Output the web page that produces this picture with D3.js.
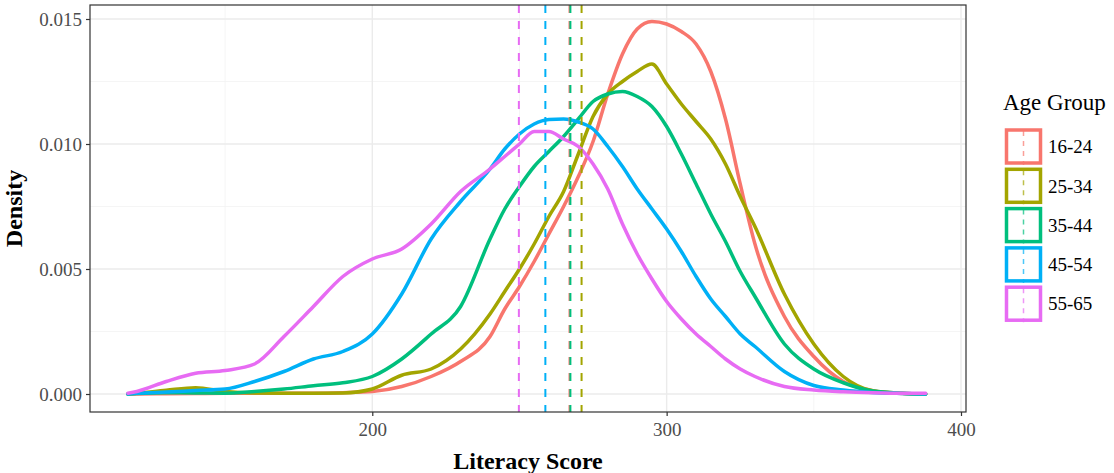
<!DOCTYPE html>
<html>
<head>
<meta charset="utf-8">
<script src="https://cdn.jsdelivr.net/npm/d3@7"></script>
<style>
  body { margin: 0; background: #fff; }
  text { font-family: "Liberation Serif", "DejaVu Serif", serif; }
</style>
</head>
<body>
<svg id="chart" width="1114" height="473"></svg>
<script>
// literacy score grid (x of every density point)
var scores = [117, 120, 130, 140, 150, 160, 170, 180, 190, 200, 210, 220, 230, 240, 245, 250, 255, 260, 265, 270,
  275, 280, 285, 290, 295, 300, 305, 310, 315, 320, 325, 330, 340, 350, 360, 370, 380, 388];

var groups = ["16-24", "25-34", "35-44", "45-54", "55-65"];

var dens1624 = [0, 0, 0.00001, 0.00002, 0.00003, 0.00003, 0.00003, 0.00003, 0.00005, 0.0001, 0.0003, 0.0007, 0.0013, 0.0023,
  0.0034, 0.0043, 0.0053, 0.0064, 0.0075, 0.0087, 0.0101, 0.0120, 0.0136, 0.0146, 0.0149, 0.0148, 0.0145, 0.0140, 0.0129,
  0.0110, 0.0084, 0.0060, 0.0031, 0.0015, 0.0005, 0.00013, 0.00002, 0];
var dens2534 = [0, 0.00003, 0.00015, 0.00025, 0.0001, 0.00004, 0.00003, 0.00003, 0.00004, 0.0002, 0.00075, 0.001, 0.0018,
  0.0032, 0.0041, 0.0050, 0.0060, 0.0071, 0.0081, 0.0096, 0.0111, 0.0120, 0.0125, 0.0129, 0.0132, 0.0124, 0.0116, 0.0109,
  0.0102, 0.0092, 0.0079, 0.0067, 0.0040, 0.0020, 0.0007, 0.00013, 0.00003, 0];
var dens3544 = [0, 0.00002, 0.00005, 0.00004, 0.00003, 0.0001, 0.0002, 0.00033, 0.00045, 0.0007, 0.0014, 0.0024, 0.0035,
  0.0062, 0.0074, 0.0083, 0.0091, 0.0097, 0.0103, 0.0110, 0.0117, 0.0120, 0.0121, 0.0119, 0.0115, 0.0107, 0.0096, 0.0084,
  0.0072, 0.0061, 0.0049, 0.0039, 0.0020, 0.0010, 0.00045, 0.00012, 0.00003, 0];
var dens4554 = [0, 0.00003, 0.00008, 0.00014, 0.0002, 0.0005, 0.0009, 0.0014, 0.0017, 0.0024, 0.0040, 0.0062, 0.0077,
  0.0090, 0.0098, 0.0104, 0.0108, 0.01098, 0.0110, 0.01088, 0.0106, 0.0099, 0.0091, 0.0082, 0.0074, 0.0066, 0.0057, 0.0047,
  0.0038, 0.0031, 0.0024, 0.0019, 0.0009, 0.00034, 0.00016, 0.00006, 0.00002, 0];
var dens5565 = [0.00003, 0.0001, 0.0005, 0.00083, 0.00094, 0.0012, 0.0023, 0.0035, 0.0047, 0.0054, 0.0058, 0.0068, 0.0081,
  0.0090, 0.0095, 0.0100, 0.0105, 0.0105, 0.0102, 0.0099, 0.0092, 0.0082, 0.0068, 0.0056, 0.0046, 0.0037, 0.0030, 0.0024,
  0.0019, 0.0014, 0.0010, 0.0007, 0.0003, 0.00016, 0.00009, 0.00005, 0.00003, 0.00003];

// group mean scores (dashed lines)
var means = [267.0, 271.1, 267.3, 258.8, 249.8];

var xTicks = [200, 300, 400];
var yTicks = [0, 0.005, 0.010, 0.015];

var colors = ["#F8766D", "#A3A500", "#00BF7D", "#00B0F6", "#E76BF3"];

var series = [dens1624, dens2534, dens3544, dens4554, dens5565].map(function(vals, i) {
  return {
    group: groups[i],
    mean: means[i],
    points: scores.map(function(s, j) { return {x: s, y: vals[j]}; })
  };
});

var svg = d3.select("#chart"),
    margin = {top: 5, right: 148, bottom: 61, left: 90},
    width = +svg.attr("width") - margin.left - margin.right,
    height = +svg.attr("height") - margin.top - margin.bottom;

var x = d3.scaleLinear().domain([104.1, 401.7]).range([0, width]);
var y = d3.scaleLinear().domain([-0.00072, 0.01556]).range([height, 0]);
var color = d3.scaleOrdinal().domain(groups).range(colors);

var g = svg.append("g").attr("transform", "translate(" + margin.left + "," + margin.top + ")");

// minor grid
var xMinor = d3.range(150, 401, 100), yMinor = d3.range(0.0025, 0.0151, 0.005);
g.selectAll(".xminor").data(xMinor).enter().append("line")
    .attr("x1", x).attr("x2", x).attr("y1", 0).attr("y2", height)
    .attr("stroke", "#f2f2f2").attr("stroke-width", 0.8);
g.selectAll(".yminor").data(yMinor).enter().append("line")
    .attr("y1", y).attr("y2", y).attr("x1", 0).attr("x2", width)
    .attr("stroke", "#f2f2f2").attr("stroke-width", 0.8);

// major grid
g.selectAll(".xmajor").data(xTicks).enter().append("line")
    .attr("x1", x).attr("x2", x).attr("y1", 0).attr("y2", height)
    .attr("stroke", "#ebebeb").attr("stroke-width", 1.4);
g.selectAll(".ymajor").data(yTicks).enter().append("line")
    .attr("y1", y).attr("y2", y).attr("x1", 0).attr("x2", width)
    .attr("stroke", "#ebebeb").attr("stroke-width", 1.4);

var line = d3.line()
    .x(function(d) { return x(d.x); })
    .y(function(d) { return y(d.y); })
    .curve(d3.curveMonotoneX);

g.selectAll(".dens").data(series).enter().append("path")
    .attr("d", function(d) { return line(d.points); })
    .attr("fill", "none")
    .attr("stroke", function(d) { return color(d.group); })
    .attr("stroke-width", 3.5)
    .attr("stroke-linejoin", "round")
    .attr("stroke-linecap", "round");

g.selectAll(".mean").data(series).enter().append("line")
    .attr("x1", function(d) { return x(d.mean); })
    .attr("x2", function(d) { return x(d.mean); })
    .attr("y1", 0).attr("y2", height)
    .attr("stroke", function(d) { return color(d.group); })
    .attr("stroke-width", 2)
    .attr("stroke-dasharray", "8,8");

// panel border
g.append("rect").attr("width", width).attr("height", height)
    .attr("fill", "none").attr("stroke", "#333").attr("stroke-width", 1.2);

// axes
var xAxis = g.append("g").attr("transform", "translate(0," + height + ")")
    .call(d3.axisBottom(x).tickValues(xTicks).tickSize(4).tickPadding(4));
var yAxis = g.append("g")
    .call(d3.axisLeft(y).tickValues(yTicks).tickFormat(d3.format(".3f")).tickSize(4).tickPadding(4));
[xAxis, yAxis].forEach(function(a) {
  a.select(".domain").remove();
  a.selectAll(".tick line").attr("stroke", "#333").attr("stroke-width", 1.2);
  a.selectAll(".tick text").attr("fill", "#4d4d4d").style("font-size", "19px")
      .style("font-family", "'Liberation Serif', serif");
});
xAxis.selectAll(".tick text").attr("dy", "0.85em");

svg.append("text")
    .attr("x", margin.left + width / 2).attr("y", 469)
    .attr("text-anchor", "middle")
    .style("font-size", "24px").style("font-weight", "bold")
    .text("Literacy Score");

svg.append("text")
    .attr("transform", "translate(22," + (margin.top + height / 2) + ") rotate(-90)")
    .attr("text-anchor", "middle")
    .style("font-size", "24px").style("font-weight", "bold")
    .text("Density");

// legend
var legend = svg.append("g").attr("transform", "translate(1003,0)");
legend.append("text").attr("x", 0).attr("y", 110)
    .style("font-size", "23px").text("Age Group");

var key = legend.selectAll(".key").data(groups).enter().append("g")
    .attr("transform", function(d, i) { return "translate(0," + (128 + i * 39.3) + ")"; });
key.append("rect")
    .attr("x", 3.5).attr("y", 2).attr("width", 34).attr("height", 33)
    .attr("fill", "none")
    .attr("stroke", color).attr("stroke-width", 3.5);
key.append("line")
    .attr("x1", 20.5).attr("x2", 20.5).attr("y1", 0).attr("y2", 37)
    .attr("stroke", color).attr("stroke-width", 1.5).attr("stroke-opacity", 0.7)
    .attr("stroke-dasharray", "5,5").attr("stroke-dashoffset", -3);
key.append("text")
    .attr("x", 45).attr("y", 19).attr("dy", "0.33em")
    .style("font-size", "19px").text(function(d) { return d; });
</script>
</body>
</html>
